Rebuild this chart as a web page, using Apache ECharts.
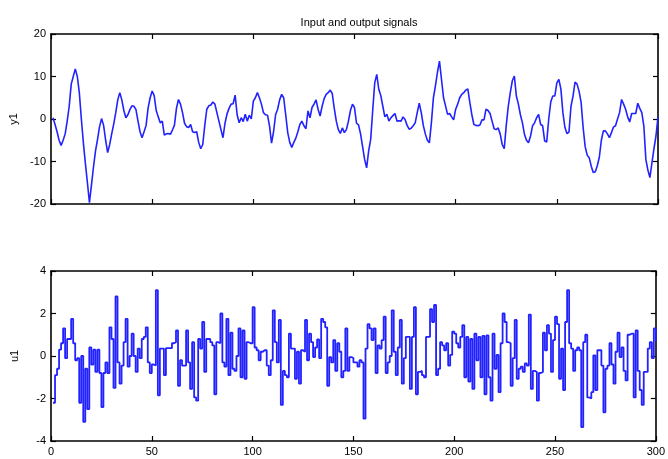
<!DOCTYPE html>
<html>
<head>
<meta charset="utf-8">
<script src="https://cdn.jsdelivr.net/npm/echarts@6/dist/echarts.min.js"></script>
<style>
  html, body { margin: 0; padding: 0; background: #fff; }
  #chart { width: 668px; height: 459px; }
</style>
</head>
<body>
<div id="chart"></div>
<script>
// Output signal y1, one sample per time step (t = 1..300)
const y1 = [
  0.3,-1.3,-3,-5,-6.2,-5,-3.5,-0.5,3,8.2,
  10,11.8,10,6.2,0,-5.6,-10.5,-15,-19.7,-15.5,
  -11.3,-7.5,-4.8,-1.8,0.1,-1.5,-5,-7.9,-6,-3.5,
  -1.2,1.5,4.5,6.2,4.5,2,0.3,1,2.2,3.1,
  3,2.2,-0.5,-3,-4.4,-3,-1.5,2.6,5,6.6,
  5.5,2,0.5,-0.9,-0.5,-3.8,-3.5,-3.4,-3.6,-2.6,
  -1.5,2.5,4.6,3.5,1.5,-1,-1.8,-2,-1.3,-3,
  -3.2,-3,-5.5,-7,-6,-1.5,2.3,3.1,3.3,4,
  3.5,1.5,-0.5,-2.5,-4.4,-1,1.2,2.5,3.5,3.6,
  5.6,1,-0.9,0.3,-0.6,1.1,-0.5,0.9,0,4.2,
  5,6.2,5,3.5,1.5,1,0.9,-1.6,-5.7,-3,
  1,2.3,4.5,5.8,5,1,-3.2,-5.5,-6.7,-5.5,
  -4.5,-3,-1.3,-0.5,-1.6,-2.3,1.9,0.3,2.7,3.5,
  4.5,2.3,0.7,3,4.8,5.8,6.2,6.8,6,2.5,
  -0.5,-2.5,-3.4,-2.1,-3.2,-2.5,-0.5,2,3.5,2.7,
  -1,-1.4,-3.5,-6.5,-9.5,-11.5,-7.5,-4.8,2,8.5,
  10.5,7,5.5,3,0.5,1.1,-0.5,0.3,0.8,1.3,
  -0.5,-0.4,-0.5,0.5,-0.1,-1.5,-2.4,-2.2,-1.6,-0.9,
  1.5,3.7,1.5,-1.5,-3.5,-5,-5.6,-0.9,5,7.8,
  11,13.6,9.3,5,3.1,1.1,1.3,0.5,-0.2,2.3,
  3.5,5,5.8,6.2,6.8,7.1,3.9,1,-1.3,-1.5,
  -1.6,-1.4,-0.2,-0.2,2.3,2,1.3,-0.5,-2.3,-2.5,
  -2.1,-3.5,-6,-7,-1.5,3,6.2,9,10.1,5.4,
  3.5,1,-0.9,-3.6,-5,-5.6,-4,-1.6,-0.9,0.3,
  1.1,-1.3,-1.6,-5.2,-5.4,0,4,5.4,5.4,8.5,
  9.3,7.1,1.5,-2,-3.4,-3.1,3,5.4,8.7,8.2,
  6.5,3.9,-2,-6.5,-8.5,-9.1,-11.1,-12.6,-12.4,-11,
  -9,-5,-2.8,-2.8,-3.5,-4.4,-3.2,-1.9,-1.6,0,
  1.5,4.6,3.5,2.3,0.5,-0.7,1.3,1.3,1.3,3.7,
  2.5,1.5,-1.6,-9.5,-12,-13.8,-10.3,-7,-4,0.5
];

// Input signal u1, held constant over each step (t = 1..300)
const u1 = [
  -2.2,-0.9,-0.6,0.3,0.6,1.3,-0.1,0.8,0.8,1.75,
  0.6,-0.2,-0.1,-2.2,0,-3.1,-0.6,-2.5,0.4,-0.4,
  0.3,-0.75,0.3,-0.8,-2.4,-0.8,-0.3,-0.8,1.35,0.8,
  -1.5,2.8,-0.3,-1.3,-0.45,0.65,1.75,-0.5,0,1.05,
  0,-0.75,0.35,-0.1,0.8,0.9,1.35,-0.3,-0.8,-0.4,
  -0.45,3.1,-1.85,0.35,0.35,-0.9,0.37,0.37,0.37,0.6,
  0.65,1.2,-1.4,-0.2,-0.45,-0.45,1.2,-0.3,-1.55,0.65,
  -1.95,-2.1,0.8,0.35,1.6,-0.75,0.8,0.8,0.65,0.5,
  -1.8,0.65,0.6,2.0,-0.3,-0.5,1.75,-0.9,1.1,-0.6,
  -0.7,0,1.3,-1.0,1.2,-1.07,0.65,0.6,0.6,2.3,
  0.4,0.27,-0.2,0.2,0.27,0.27,-0.45,-0.9,-0.2,2.15,
  0.65,-0.3,1.7,-2.3,-0.7,-0.9,-1.0,1.05,0.35,0.35,
  -1.07,0.2,-1.3,0.27,0.2,1.7,-0.2,1.05,0.65,-0.05,
  0.4,0.78,-0.1,1.75,1.6,1.35,-1.4,-0.05,-0.3,0.75,
  -0.7,0.6,0.2,-1.0,-0.7,1.3,-0.7,-0.05,-0.1,-0.3,
  -0.3,-0.5,-0.2,-0.3,-2.95,0.35,1.5,1.3,0.75,1.3,
  -0.8,0.5,0.35,0.75,1.85,-0.8,-0.3,0,2.15,0.2,
  -0.9,0.4,1.7,-1.3,-0.1,0.9,0.9,-1.55,0.9,2.3,
  -1.8,-0.75,-0.7,-0.9,-1.0,0.9,0.9,2.2,1.6,2.4,
  -0.9,-0.6,0.65,0.5,0.27,0.6,-0.45,0.05,1.15,1.05,
  0.6,0.4,0.9,1.45,-1.0,0.9,-1.2,0.8,-1.55,1.05,
  -0.2,0.9,-1.0,0.95,-1.8,0.97,-1.0,-2.1,1.05,-0.6,
  0.05,-1.7,0.6,2.0,1.6,0.65,0.6,-1.4,-0.1,1.7,
  -1.07,-0.6,-0.5,-0.75,-0.35,-0.45,1.95,-1.55,-0.7,-0.75,
  -2.1,-0.8,-0.75,1.1,0.27,1.45,1.05,-0.75,0.75,1.85,
  1.5,-1.07,0.35,-1.6,1.6,3.1,0.6,0.35,-0.7,0.27,
  0.4,0.27,-3.35,0.65,1.0,-1.95,-2.0,-1.7,0.03,-1.6,
  0.27,0.27,-0.45,-2.65,-0.6,-0.45,0.6,-0.4,-1.3,0.2,
  1.1,-0.05,0.4,-0.7,-1.15,1.0,1.05,1.05,-1.95,1.2,
  -0.7,-1.6,-2.3,-0.75,-0.75,0.35,0.65,-0.1,1.3,0.7
];

// Axis ranges and tick spacing
const xRange = { min: 0, max: 300, interval: 50 };
const yRangeTop = { min: -20, max: 20, interval: 10 };
const yRangeBottom = { min: -4, max: 4, interval: 2 };

const titleText = 'Input and output signals';
const topName = 'y1';
const bottomName = 'u1';

const FONT = 'Liberation Sans, Arial, sans-serif';
const LINE = '#2222ff';

const axisLine = { show: true, onZero: false, lineStyle: { color: '#000', width: 1.6 } };
const tick = { show: true, inside: true, length: 5, lineStyle: { color: '#000', width: 1.2 } };
const label = { show: true, fontFamily: FONT, fontSize: 11, color: '#000', margin: 5 };

function xAxisPair(grid, withLabels) {
  return [
    Object.assign({ gridIndex: grid, type: 'value', position: 'bottom',
      axisLine, axisTick: tick, splitLine: { show: false },
      axisLabel: withLabels ? label : { show: false } }, xRange),
    Object.assign({ gridIndex: grid, type: 'value', position: 'top',
      axisLine, axisTick: tick, splitLine: { show: false },
      axisLabel: { show: false } }, xRange)
  ];
}

function yAxisPair(grid, range, name) {
  return [
    Object.assign({ gridIndex: grid, type: 'value', position: 'left',
      name: name, nameLocation: 'middle', nameGap: 31, nameRotate: 90,
      nameTextStyle: { fontFamily: FONT, fontSize: 11, color: '#000' },
      axisLine, axisTick: tick, splitLine: { show: false },
      axisLabel: label }, range),
    Object.assign({ gridIndex: grid, type: 'value', position: 'right',
      axisLine, axisTick: tick, splitLine: { show: false },
      axisLabel: { show: false } }, range)
  ];
}

const chart = echarts.init(document.getElementById('chart'), null, { renderer: 'canvas' });

chart.setOption({
  animation: false,
  backgroundColor: '#fff',
  title: {
    text: titleText,
    left: 354,
    textAlign: 'center',
    top: 12,
    textStyle: { fontFamily: FONT, fontSize: 11, fontWeight: 'normal', color: '#000' }
  },
  grid: [
    { left: 51, top: 34, width: 607, height: 170 },
    { left: 51, top: 271, width: 607, height: 170 }
  ],
  xAxis: [].concat(xAxisPair(0, false), xAxisPair(1, true)),
  yAxis: [].concat(yAxisPair(0, yRangeTop, topName), yAxisPair(1, yRangeBottom, bottomName)),
  series: [
    {
      type: 'line', xAxisIndex: 0, yAxisIndex: 0,
      data: y1.map((v, i) => [i + 1, v]),
      showSymbol: false, smooth: false,
      lineStyle: { color: LINE, width: 1.6 }
    },
    {
      type: 'line', xAxisIndex: 2, yAxisIndex: 2,
      data: u1.map((v, i) => [i + 1, v]),
      step: 'end', showSymbol: false,
      lineStyle: { color: LINE, width: 1.8 }
    }
  ]
});
</script>
</body>
</html>
